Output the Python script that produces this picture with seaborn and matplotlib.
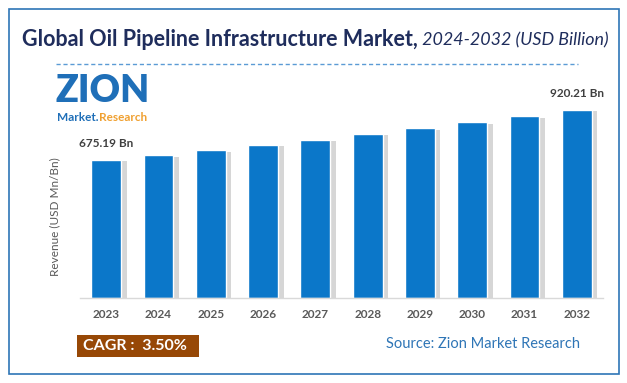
import matplotlib
matplotlib.use("Agg")
import matplotlib.pyplot as plt
import matplotlib.patheffects as pe
from matplotlib.patches import Rectangle
import seaborn as sns
import pandas as pd

years = ["2023", "2024", "2025", "2026", "2027", "2028", "2029", "2030", "2031", "2032"]
revenue = [675.19, 698.8, 723.3, 748.6, 774.8, 801.9, 830.0, 859.0, 889.1, 920.21]
first_label = "675.19 Bn"
last_label = "920.21 Bn"
title_bold = "Global Oil Pipeline Infrastructure Market,"
title_italic = " 2024-2032 (USD Billion)"
y_label = "Revenue (USD Mn/Bn)"
cagr_text = "CAGR :  3.50%"
source_text = "Source: Zion Market Research"

sns.set_theme(style="white")
plt.rcParams["font.family"] = ["Lato", "DejaVu Sans"]

df = pd.DataFrame({"year": years, "revenue": revenue})

fig = plt.figure(figsize=(6.27, 3.83), dpi=100)
W, H = 627, 383
ax = fig.add_axes([80 / W, 1 - 298 / H, 523 / W, 200 / H])

sns.barplot(data=df, x="year", y="revenue", color="#0B77C9", saturation=1,
            width=0.57, ax=ax)
for p in ax.patches:
    p.set_path_effects([pe.SimplePatchShadow(offset=(4, -1), shadow_rgbFace="#8C8C8C", alpha=0.35),
                        pe.Normal()])

ax.set_xlim(-0.5, len(years) - 0.5)
ax.set_ylim(0, 675.19 * 200 / 138)
ax.set_xlabel("")
ax.set_ylabel(y_label, fontsize=8.5, color="#595959")
ax.yaxis.set_label_coords(-0.038, 0.405)
ax.set_yticks([])
for s in ["top", "right", "left"]:
    ax.spines[s].set_visible(False)
ax.spines["bottom"].set_color("#D9D9D9")
ax.spines["bottom"].set_linewidth(1)
ax.tick_params(axis="x", length=0, pad=8, labelsize=8.5, labelcolor="#595959")
for t in ax.get_xticklabels():
    t.set_fontweight("bold")

ax.annotate(first_label, (0, revenue[0]), xytext=(0, 8), textcoords="offset points",
            ha="center", va="bottom", fontsize=8.5, fontweight="bold", color="#404040")
ax.annotate(last_label, (len(years) - 1, revenue[-1]), xytext=(0, 8), textcoords="offset points",
            ha="center", va="bottom", fontsize=8.5, fontweight="bold", color="#404040")

# border
fig.patches.append(Rectangle((9 / W, 1 - 374 / H), 610 / W, 365 / H, transform=fig.transFigure,
                             fill=False, edgecolor="#2E75B6", linewidth=1.2))

# title
t1 = fig.text(22 / W, 1 - 40 / H, title_bold, fontsize=15.5, fontweight="bold",
              color="#1F2D5C", ha="left", va="center")
fig.canvas.draw()
bb = t1.get_window_extent()
fig.text(bb.x1 / W, 1 - 40 / H, title_italic, fontsize=12.9, fontstyle="italic",
         color="#1F2D5C", ha="left", va="center")

# dashed line
fig.add_artist(plt.Line2D([56 / W, 578 / W], [1 - 64 / H, 1 - 64 / H], transform=fig.transFigure,
                          color="#5B9BD5", linewidth=1, linestyle=(0, (3, 2))))

# logo
fig.text(56 / W, 1 - 91 / H, "ZION", fontsize=27, fontweight="heavy", color="#1F6FB8",
         ha="left", va="center")
fig.text(57 / W, 1 - 117 / H, "Market.", fontsize=8.5, fontweight="bold", color="#1F6FB8",
         ha="left", va="center")
fig.text(99 / W, 1 - 117 / H, "Research", fontsize=8.5, fontweight="bold", color="#F0A030",
         ha="left", va="center")

# CAGR box
fig.patches.append(Rectangle((77 / W, 1 - 357 / H), 122 / W, 22 / H, transform=fig.transFigure,
                             facecolor="#974806", edgecolor="none"))
fig.text(83 / W, 1 - 346 / H, cagr_text, fontsize=11.5, fontweight="bold", color="white",
         ha="left", va="center")

fig.text(386 / W, 1 - 344 / H, source_text, fontsize=10.5, color="#2E75B6",
         ha="left", va="center")

fig.savefig("out.png", dpi=100)
